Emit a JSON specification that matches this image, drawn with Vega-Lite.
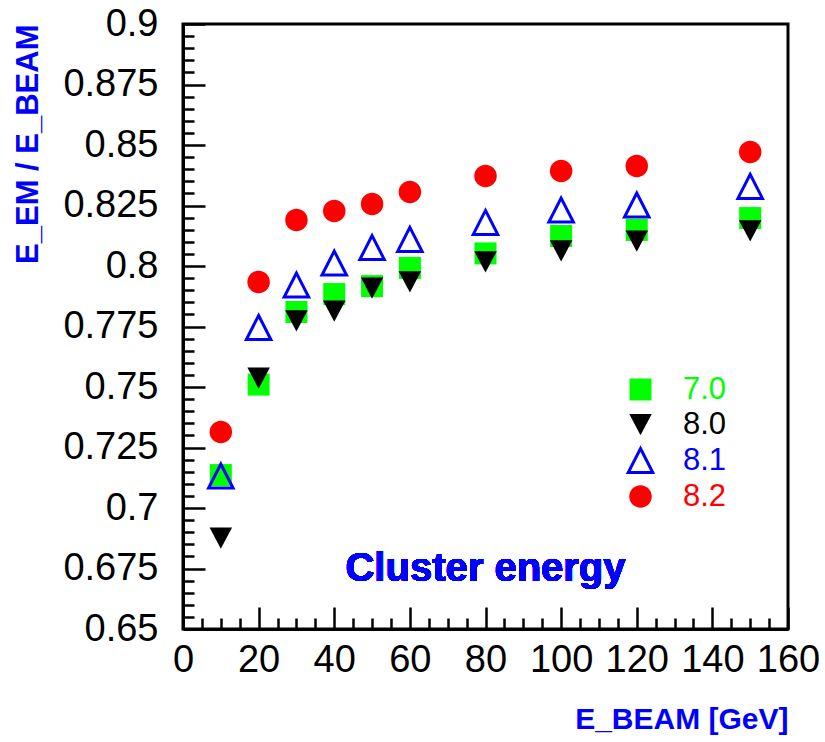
{
  "$schema": "https://vega.github.io/schema/vega-lite/v6.json",
  "autosize": {"type": "none"},
  "padding": {"left": 183, "top": 24, "right": 37, "bottom": 113},
  "width": 605,
  "height": 605,
  "background": "white",
  "config": {
    "font": "Liberation Sans",
    "view": {"stroke": "black", "strokeWidth": 3},
    "axis": {"labelOverlap": false, "labelBound": false, "labelFlush": false}
  },
  "data": {
    "values": [
      {"version": "7.0", "ebeam": 10, "ratio": 0.7136},
      {"version": "7.0", "ebeam": 20, "ratio": 0.7510},
      {"version": "7.0", "ebeam": 30, "ratio": 0.7810},
      {"version": "7.0", "ebeam": 40, "ratio": 0.7884},
      {"version": "7.0", "ebeam": 50, "ratio": 0.7917},
      {"version": "7.0", "ebeam": 60, "ratio": 0.7992},
      {"version": "7.0", "ebeam": 80, "ratio": 0.8052},
      {"version": "7.0", "ebeam": 100, "ratio": 0.8124},
      {"version": "7.0", "ebeam": 120, "ratio": 0.8149},
      {"version": "7.0", "ebeam": 150, "ratio": 0.8198},
      {"version": "8.0", "ebeam": 10, "ratio": 0.6876},
      {"version": "8.0", "ebeam": 20, "ratio": 0.7537},
      {"version": "8.0", "ebeam": 30, "ratio": 0.7773},
      {"version": "8.0", "ebeam": 40, "ratio": 0.7814},
      {"version": "8.0", "ebeam": 50, "ratio": 0.7909},
      {"version": "8.0", "ebeam": 60, "ratio": 0.7934},
      {"version": "8.0", "ebeam": 80, "ratio": 0.8017},
      {"version": "8.0", "ebeam": 100, "ratio": 0.8062},
      {"version": "8.0", "ebeam": 120, "ratio": 0.8103},
      {"version": "8.0", "ebeam": 150, "ratio": 0.8145},
      {"version": "8.1", "ebeam": 10, "ratio": 0.7132},
      {"version": "8.1", "ebeam": 20, "ratio": 0.7746},
      {"version": "8.1", "ebeam": 30, "ratio": 0.7921},
      {"version": "8.1", "ebeam": 40, "ratio": 0.8012},
      {"version": "8.1", "ebeam": 50, "ratio": 0.8076},
      {"version": "8.1", "ebeam": 60, "ratio": 0.8110},
      {"version": "8.1", "ebeam": 80, "ratio": 0.8180},
      {"version": "8.1", "ebeam": 100, "ratio": 0.8231},
      {"version": "8.1", "ebeam": 120, "ratio": 0.8252},
      {"version": "8.1", "ebeam": 150, "ratio": 0.8329},
      {"version": "8.2", "ebeam": 10, "ratio": 0.7314},
      {"version": "8.2", "ebeam": 20, "ratio": 0.7934},
      {"version": "8.2", "ebeam": 30, "ratio": 0.8190},
      {"version": "8.2", "ebeam": 40, "ratio": 0.8227},
      {"version": "8.2", "ebeam": 50, "ratio": 0.8256},
      {"version": "8.2", "ebeam": 60, "ratio": 0.8306},
      {"version": "8.2", "ebeam": 80, "ratio": 0.8372},
      {"version": "8.2", "ebeam": 100, "ratio": 0.8393},
      {"version": "8.2", "ebeam": 120, "ratio": 0.8413},
      {"version": "8.2", "ebeam": 150, "ratio": 0.8471}
    ]
  },
  "layer": [
    {
      "mark": {"type": "point", "size": 625, "strokeWidth": 3, "opacity": 1},
      "encoding": {
        "x": {
          "field": "ebeam", "type": "quantitative",
          "scale": {"domain": [0, 160], "nice": false, "zero": false},
          "axis": {
            "values": [0,5,10,15,20,25,30,35,40,45,50,55,60,65,70,75,80,85,90,95,100,105,110,115,120,125,130,135,140,145,150,155,160],
            "labelExpr": "datum.value % 20 == 0 ? datum.label : ''",
            "grid": false,
            "domainColor": "black", "domainWidth": 3,
            "tickColor": "black", "tickWidth": 2.5,
            "tickSize": {"condition": {"test": "datum.value % 20 == 0", "value": -22}, "value": -11},
            "labelFont": "Liberation Sans", "labelFontSize": 38, "labelColor": "black",
            "labelPadding": 34, "labelFlush": false, "labelOverlap": false,
            "title": "E_BEAM  [GeV]",
            "titleFont": "Liberation Sans", "titleFontSize": 30, "titleFontWeight": "bold",
            "titleColor": "#0000ff", "titleAnchor": "end", "titleAlign": "right",
            "titleBaseline": "alphabetic", "titleY": 99
          }
        },
        "y": {
          "field": "ratio", "type": "quantitative",
          "scale": {"domain": [0.65, 0.9], "nice": false, "zero": false},
          "axis": {
            "values": [0.65,0.655,0.66,0.665,0.67,0.675,0.68,0.685,0.69,0.695,0.7,0.705,0.71,0.715,0.72,0.725,0.73,0.735,0.74,0.745,0.75,0.755,0.76,0.765,0.77,0.775,0.78,0.785,0.79,0.795,0.8,0.805,0.81,0.815,0.82,0.825,0.83,0.835,0.84,0.845,0.85,0.855,0.86,0.865,0.87,0.875,0.88,0.885,0.89,0.895,0.9],
            "format": "~g",
            "labelExpr": "abs(datum.value*40 - round(datum.value*40)) < 0.01 ? datum.label : ''",
            "grid": false,
            "domainColor": "black", "domainWidth": 3,
            "tickColor": "black", "tickWidth": 2.5,
            "tickSize": {"condition": {"test": "abs(datum.value*40 - round(datum.value*40)) < 0.01", "value": -22}, "value": -11},
            "labelFont": "Liberation Sans", "labelFontSize": 38, "labelColor": "black",
            "labelPadding": 47, "labelFlush": false, "labelOverlap": false,
            "title": "E_EM / E_BEAM",
            "titleFont": "Liberation Sans", "titleFontSize": 31, "titleFontWeight": "bold",
            "titleColor": "#0000ff", "titleAnchor": "end",
            "titleBaseline": "middle", "titleX": -155
          }
        },
        "fill": {
          "field": "version", "type": "nominal",
          "scale": {"domain": ["7.0", "8.0", "8.1", "8.2"], "range": ["#00ff00", "#000000", "transparent", "#ff0000"]},
          "legend": {
            "title": null, "orient": "none", "legendX": 442, "legendY": 350,
            "padding": 0, "symbolSize": 625, "symbolStrokeWidth": 3, "symbolOpacity": 1,
            "labelFont": "Liberation Sans", "labelFontSize": 31, "labelOffset": 27,
            "rowPadding": 0, "labelLimit": 200,
            "encode": {
              "labels": {"update": {"fill": {"signal": "datum.label === '7.0' ? '#00ff00' : datum.label === '8.0' ? '#000000' : datum.label === '8.1' ? '#0000ff' : '#ff0000'"}}}
            }
          }
        },
        "stroke": {
          "field": "version", "type": "nominal",
          "scale": {"domain": ["7.0", "8.0", "8.1", "8.2"], "range": ["transparent", "transparent", "#0000ff", "transparent"]},
          "legend": {
            "title": null, "orient": "none", "legendX": 442, "legendY": 350,
            "padding": 0, "symbolSize": 625, "symbolStrokeWidth": 3, "symbolOpacity": 1,
            "labelFont": "Liberation Sans", "labelFontSize": 31, "labelOffset": 27,
            "rowPadding": 0, "labelLimit": 200
          }
        },
        "shape": {
          "field": "version", "type": "nominal",
          "scale": {"domain": ["7.0", "8.0", "8.1", "8.2"], "range": [
            "M-0.88,-0.88L0.88,-0.88L0.88,0.88L-0.88,0.88Z",
            "M-0.9,-0.85L0.9,-0.85L0,0.85Z",
            "M0,-0.96L0.98,0.96L-0.98,0.96Z",
            "M0.9,0A0.9,0.9,0,1,1,-0.9,0A0.9,0.9,0,1,1,0.9,0Z"
          ]},
          "legend": {
            "title": null, "orient": "none", "legendX": 442, "legendY": 350,
            "padding": 0, "symbolSize": 625, "symbolStrokeWidth": 3, "symbolOpacity": 1,
            "labelFont": "Liberation Sans", "labelFontSize": 31, "labelOffset": 27,
            "rowPadding": 0, "labelLimit": 200
          }
        }
      }
    },
    {
      "mark": {"type": "text", "font": "Liberation Sans", "fontSize": 40, "fontWeight": "bold", "fill": "#0000ff", "strokeWidth": 0, "align": "center", "baseline": "alphabetic"},
      "encoding": {
        "x": {
          "datum": 80, "type": "quantitative",
          "axis": {
            "values": [0,5,10,15,20,25,30,35,40,45,50,55,60,65,70,75,80,85,90,95,100,105,110,115,120,125,130,135,140,145,150,155,160],
            "labelExpr": "datum.value % 20 == 0 ? datum.label : ''",
            "grid": false,
            "domainColor": "black", "domainWidth": 3,
            "tickColor": "black", "tickWidth": 2.5,
            "tickSize": {"condition": {"test": "datum.value % 20 == 0", "value": -22}, "value": -11},
            "labelFont": "Liberation Sans", "labelFontSize": 38, "labelColor": "black",
            "labelPadding": 34, "labelFlush": false, "labelOverlap": false,
            "title": "E_BEAM  [GeV]",
            "titleFont": "Liberation Sans", "titleFontSize": 30, "titleFontWeight": "bold",
            "titleColor": "#0000ff", "titleAnchor": "end", "titleAlign": "right",
            "titleBaseline": "alphabetic", "titleY": 99
          }
        },
        "y": {
          "datum": 0.6698, "type": "quantitative",
          "axis": {
            "values": [0.65,0.655,0.66,0.665,0.67,0.675,0.68,0.685,0.69,0.695,0.7,0.705,0.71,0.715,0.72,0.725,0.73,0.735,0.74,0.745,0.75,0.755,0.76,0.765,0.77,0.775,0.78,0.785,0.79,0.795,0.8,0.805,0.81,0.815,0.82,0.825,0.83,0.835,0.84,0.845,0.85,0.855,0.86,0.865,0.87,0.875,0.88,0.885,0.89,0.895,0.9],
            "format": "~g",
            "labelExpr": "abs(datum.value*40 - round(datum.value*40)) < 0.01 ? datum.label : ''",
            "grid": false,
            "domainColor": "black", "domainWidth": 3,
            "tickColor": "black", "tickWidth": 2.5,
            "tickSize": {"condition": {"test": "abs(datum.value*40 - round(datum.value*40)) < 0.01", "value": -22}, "value": -11},
            "labelFont": "Liberation Sans", "labelFontSize": 38, "labelColor": "black",
            "labelPadding": 47, "labelFlush": false, "labelOverlap": false,
            "title": "E_EM / E_BEAM",
            "titleFont": "Liberation Sans", "titleFontSize": 31, "titleFontWeight": "bold",
            "titleColor": "#0000ff", "titleAnchor": "end",
            "titleBaseline": "middle", "titleX": -155
          }
        },
        "text": {"value": "Cluster energy"}
      }
    }
  ]
}
